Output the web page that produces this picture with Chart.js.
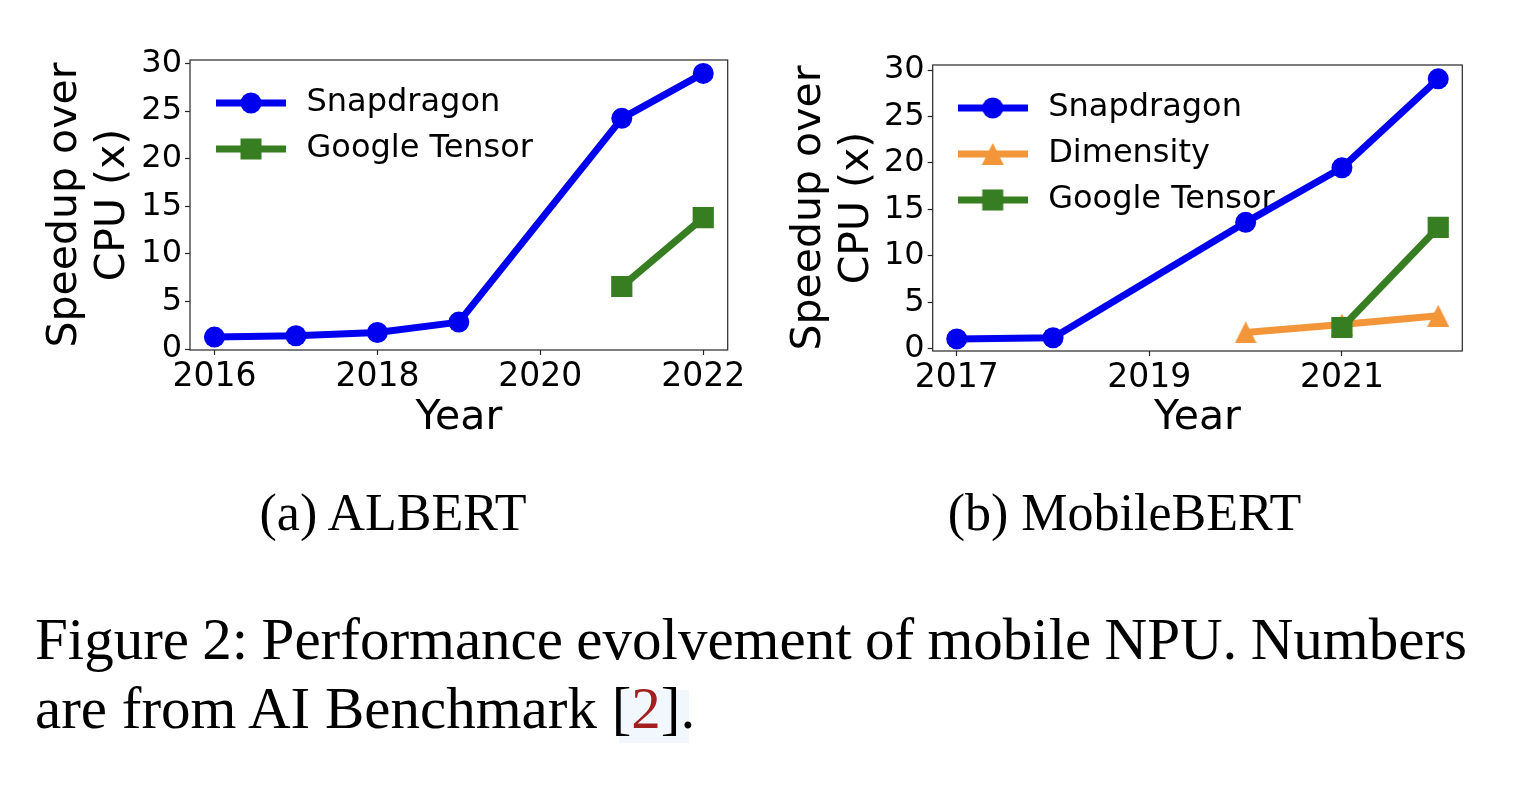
<!DOCTYPE html>
<html><head><meta charset="utf-8">
<script src="https://cdn.jsdelivr.net/npm/chart.js@4.4.1/dist/chart.umd.min.js"></script>
<style>
html,body{margin:0;padding:0;background:#fff;width:1522px;height:796px;overflow:hidden;}
.pane{position:absolute;top:0;height:450px;}
.serif{font-family:'Liberation Serif','Times New Roman',serif;color:#000;position:absolute;white-space:nowrap;}
</style></head><body>
<div class="pane" style="left:0;width:760px"><canvas id="c1" width="760" height="450"></canvas></div>
<div class="pane" style="left:760px;width:762px"><canvas id="c2" width="762" height="450"></canvas></div>
<div class="serif" style="font-size:52px;line-height:52px;top:486.5px;left:393px;transform:translateX(-50%)">(a) ALBERT</div>
<div class="serif" style="font-size:52px;line-height:52px;top:486.5px;left:1124.5px;transform:translateX(-50%)">(b) MobileBERT</div>
<div style="position:absolute;left:619px;top:690px;width:70px;height:53px;background:#f2f6fd"></div>
<div class="serif" id="cap1" style="font-size:59px;line-height:59px;top:609.6px;left:35px">Figure 2: Performance evolvement of mobile NPU. Numbers</div>
<div class="serif" id="cap2" style="font-size:59px;line-height:59px;top:678.6px;left:35px">are from AI Benchmark [<span style="color:#a31f1f">2</span>].</div>
<script>
// ---- data ----
const albertYears = [2016, 2017, 2018, 2019, 2021, 2022];
const albertSnapdragon = [1.26, 1.40, 1.74, 2.83, 24.24, 28.96];
const albertTensorYears = [2021, 2022];
const albertTensor = [6.57, 13.8];
const albertXTicks = [2016, 2018, 2020, 2022];

const mobileYears = [2017, 2018, 2020, 2021, 2022];
const mobileSnapdragon = [1.05, 1.18, 13.6, 19.47, 29.05];
const mobileDimensityYears = [2020, 2021, 2022];
const mobileDimensity = [1.75, 2.6, 3.55];
const mobileTensorYears = [2021, 2022];
const mobileTensor = [2.28, 13.05];
const mobileXTicks = [2017, 2019, 2021];

const yTicks = [0, 5, 10, 15, 20, 25, 30];
const seriesNames = ['Snapdragon', 'Dimensity', 'Google Tensor'];
const yTitle = ['Speedup over', 'CPU (x)'];
const xTitle = 'Year';

// ---- styles ----
const BLUE = '#0000f0', ORANGE = '#f39639', GREEN = '#377d22';
const FONT = 'DejaVu Sans';
const AXC = '#262626';

function triImg(color, s) {
  const c = document.createElement('canvas'); c.width = s; c.height = s;
  const g = c.getContext('2d'); g.fillStyle = color; g.beginPath();
  g.moveTo(s / 2, 0); g.lineTo(s, s); g.lineTo(0, s); g.closePath(); g.fill();
  return c;
}
function legendIcon(color, shape) {
  const c = document.createElement('canvas'); c.width = 70; c.height = 24;
  const g = c.getContext('2d');
  g.strokeStyle = color; g.lineWidth = 7; g.beginPath(); g.moveTo(0, 12); g.lineTo(70, 12); g.stroke();
  g.fillStyle = color; g.beginPath();
  if (shape === 'circle') { g.arc(35, 12, 10.5, 0, Math.PI * 2); g.fill(); }
  else if (shape === 'rect') { g.fillRect(24.5, 1.5, 21, 21); }
  else { g.moveTo(35, 1); g.lineTo(46, 23); g.lineTo(24, 23); g.closePath(); g.fill(); }
  return c;
}
const pts = (xs, ys) => xs.map((x, i) => ({x: x, y: ys[i]}));

function series(name, xs, ys, color, style, order) {
  const isImg = style === 'triangle';
  return {
    label: name, data: pts(xs, ys), borderColor: color, backgroundColor: color,
    borderWidth: 7, tension: 0, borderJoinStyle: 'round',
    pointStyle: isImg ? triImg(color, 22) : style,
    pointRadius: style === 'rect' ? 15 : 10.5, pointHoverRadius: style === 'rect' ? 15 : 10.5,
    pointBorderWidth: 0, pointBackgroundColor: color, order: order
  };
}

const framePlugin = {
  id: 'frame',
  afterLayout(chart, args, opts) {
    const ca = chart.chartArea, lg = chart.legend;
    if (lg) {
      const w = lg.width, h = lg.height;
      lg.left = ca.left + opts.dx; lg.top = ca.top + opts.dy;
      lg.right = lg.left + w; lg.bottom = lg.top + h;
    }
  },
  beforeDatasetsDraw(chart) {
    const {ctx, chartArea: ca} = chart;
    ctx.save(); ctx.strokeStyle = AXC; ctx.lineWidth = 1.2;
    ctx.strokeRect(ca.left, ca.top, ca.right - ca.left, ca.bottom - ca.top);
    ctx.restore();
  }
};

function build(id, datasets, xTicks, xr, yr, box, icons) {
  return new Chart(document.getElementById(id), {
    type: 'line',
    data: {datasets: datasets},
    plugins: [framePlugin],
    options: {
      responsive: false, animation: false, devicePixelRatio: 1,
      layout: {padding: {left: 0, top: box.top, right: box.right, bottom: 0}},
      scales: {
        x: {
          type: 'linear', min: xr[0], max: xr[1],
          afterBuildTicks: s => { s.ticks = xTicks.map(v => ({value: v})); },
          afterFit: s => { s.height = box.xh; s.paddingLeft = 0; s.paddingRight = 0; },
          ticks: {autoSkip: false, maxRotation: 0, padding: 3, color: '#000', font: {family: FONT, size: 33}, callback: v => String(v)},
          grid: {drawOnChartArea: false, drawTicks: true, tickLength: 5, tickColor: AXC, tickWidth: 1.2},
          border: {display: false},
          title: {display: true, text: xTitle, color: '#000', font: {family: FONT, size: 41, lineHeight: 1.16}, padding: {top: 0, bottom: box.xPad}}
        },
        y: {
          type: 'linear', min: yr[0], max: yr[1],
          afterBuildTicks: s => { s.ticks = yTicks.map(v => ({value: v})); },
          afterFit: s => { s.width = box.left; s.paddingTop = 0; s.paddingBottom = 0; },
          ticks: {padding: 3, color: '#000', font: {family: FONT, size: 32}, callback: v => String(v)},
          grid: {drawOnChartArea: false, drawTicks: true, tickLength: 5, tickColor: AXC, tickWidth: 1.2},
          border: {display: false},
          title: {display: true, text: yTitle, color: '#000', font: {family: FONT, size: 41, lineHeight: 1.16}, padding: {top: box.yPad, bottom: 0}}
        }
      },
      plugins: {
        frame: {dx: box.ldx, dy: box.ldy},
        tooltip: {enabled: false},
        legend: {
          position: 'chartArea', align: 'start',
          labels: {
            usePointStyle: true, pointStyleWidth: 79, padding: 14, color: '#000',
            font: {family: FONT, size: 32},
            sort: (a, b) => a.datasetIndex - b.datasetIndex,
            generateLabels: chart => {
              const items = Chart.defaults.plugins.legend.labels.generateLabels(chart);
              items.forEach(it => { it.pointStyle = icons[it.datasetIndex]; it.fontColor = '#000'; });
              return items;
            }
          }
        }
      }
    }
  });
}

build('c1', [
  series(seriesNames[0], albertYears, albertSnapdragon, BLUE, 'circle', 2),
  series(seriesNames[2], albertTensorYears, albertTensor, GREEN, 'rect', 1)
], albertXTicks, [2015.7, 2022.3], [-0.1, 30.37],
  {left: 190, right: 32.3, top: 60, xh: 100, xPad: 8, yPad: 42, ldx: 7.5, ldy: 13},
  [legendIcon(BLUE, 'circle'), legendIcon(GREEN, 'rect')]);

build('c2', [
  series(seriesNames[0], mobileYears, mobileSnapdragon, BLUE, 'circle', 3),
  series(seriesNames[1], mobileDimensityYears, mobileDimensity, ORANGE, 'triangle', 2),
  series(seriesNames[2], mobileTensorYears, mobileTensor, GREEN, 'rect', 1)
], mobileXTicks, [2016.75, 2022.25], [-0.25, 30.54],
  {left: 172.7, right: 59.7, top: 65, xh: 99, xPad: 8, yPad: 26, ldx: 6.5, ldy: 13},
  [legendIcon(BLUE, 'circle'), legendIcon(ORANGE, 'triangle'), legendIcon(GREEN, 'rect')]);

// justify caption line 1 to the measured line width
const cap1 = document.getElementById('cap1');
const natural = cap1.getBoundingClientRect().width;
const nSpaces = (cap1.textContent.match(/ /g) || []).length;
cap1.style.wordSpacing = ((1432 - natural) / nSpaces) + 'px';
</script>
</body></html>
